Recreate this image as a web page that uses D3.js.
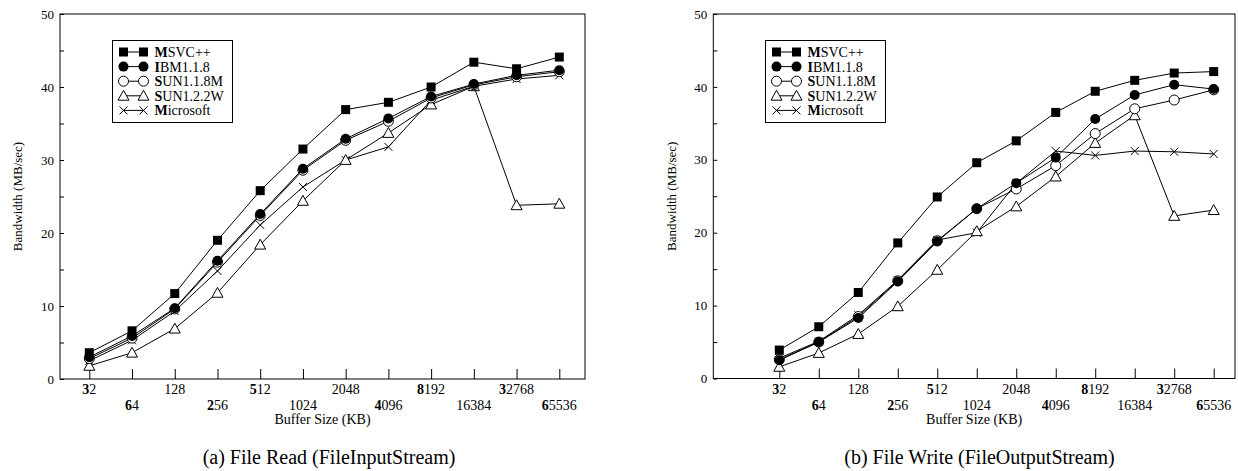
<!DOCTYPE html>
<html>
<head>
<meta charset="utf-8">
<script src="https://cdn.jsdelivr.net/npm/d3@7"></script>
<style>
  html, body { margin: 0; padding: 0; background: #fff; }
  svg { display: block; }
  text { font-family: "Liberation Serif", "Times New Roman", serif; fill: #000; }
</style>
</head>
<body>
<div id="chart"></div>
<script>
// ---------- data ----------
const bufferSizes = [32, 64, 128, 256, 512, 1024, 2048, 4096, 8192, 16384, 32768, 65536];
const seriesNames = ["MSVC++", "IBM1.1.8", "SUN1.1.8M", "SUN1.2.2W", "Microsoft"];
const yTicks = [0, 10, 20, 30, 40, 50];
const yMinorTicks = [5, 15, 25, 35, 45];

// (a) File Read (FileInputStream)
const readMSVC    = [3.6, 6.6, 11.7, 19.0, 25.8, 31.5, 36.9, 37.9, 40.0, 43.4, 42.5, 44.1];
const readIBM     = [3.0, 5.9, 9.7, 16.2, 22.6, 28.8, 32.9, 35.7, 38.7, 40.4, 41.6, 42.3];
const readSUN118M = [2.8, 5.6, 9.6, 16.0, 22.4, 28.6, 32.7, 35.3, 38.5, 40.3, 41.4, 42.1];
const readSUN122W = [1.8, 3.6, 6.9, 11.8, 18.4, 24.4, 30.0, 33.7, 37.6, 40.1, 23.8, 24.0];
const readMS      = [2.5, 5.3, 9.3, 14.8, 21.1, 26.3, 30.0, 31.8, 38.2, 40.1, 41.1, 41.6];

// (b) File Write (FileOutputStream)
const writeMSVC    = [3.9, 7.1, 11.8, 18.6, 24.9, 29.6, 32.6, 36.5, 39.4, 40.9, 41.9, 42.1];
const writeIBM     = [2.5, 5.0, 8.3, 13.3, 18.8, 23.3, 26.8, 30.3, 35.6, 38.9, 40.3, 39.7];
const writeSUN118M = [2.6, 5.0, 8.5, 13.4, 18.9, 23.3, 26.0, 29.2, 33.6, 37.0, 38.2, 39.6];
const writeSUN122W = [1.6, 3.5, 6.1, 9.9, 14.9, 20.2, 23.6, 27.7, 32.3, 36.1, 22.3, 23.1];
const writeMS      = [2.8, 5.1, 8.7, 13.5, 19.0, 20.0, 26.8, 31.2, 30.6, 31.2, 31.1, 30.8];

const yLabel = "Bandwidth (MB/sec)";
const xLabel = "Buffer Size (KB)";
const captions = ["(a) File Read (FileInputStream)", "(b) File Write (FileOutputStream)"];
const boldFirstTicks = ["32", "512", "8192", "32768", "64", "256", "4096", "65536"];
const markerKinds = ["square", "disc", "circle", "triangle", "cross"];

// ---------- drawing ----------
const W = 1238, H = 471;
const svg = d3.select("#chart").append("svg")
  .attr("width", W).attr("height", H)
  .attr("viewBox", `0 0 ${W} ${H}`);
svg.append("rect").attr("width", W).attr("height", H).attr("fill", "#fff");

function marker(g, kind, cx, cy) {
  if (kind === "square") {
    g.append("rect").attr("x", cx - 4.5).attr("y", cy - 4.5)
      .attr("width", 9).attr("height", 9).attr("fill", "#000");
  } else if (kind === "disc") {
    g.append("circle").attr("cx", cx).attr("cy", cy).attr("r", 5).attr("fill", "#000");
  } else if (kind === "circle") {
    g.append("circle").attr("cx", cx).attr("cy", cy).attr("r", 5)
      .attr("fill", "#fff").attr("stroke", "#000").attr("stroke-width", 1);
  } else if (kind === "triangle") {
    const s = 5.5;
    g.append("path")
      .attr("d", `M${cx},${cy - s} L${cx + s},${cy + s * 0.8} L${cx - s},${cy + s * 0.8} Z`)
      .attr("fill", "#fff").attr("stroke", "#000").attr("stroke-width", 1);
  } else if (kind === "cross") {
    const s = 4;
    g.append("path")
      .attr("d", `M${cx - s},${cy - s} L${cx + s},${cy + s} M${cx - s},${cy + s} L${cx + s},${cy - s}`)
      .attr("stroke", "#000").attr("stroke-width", 1).attr("fill", "none");
  }
}

function boldFirst(sel, str, bold) {
  if (bold) {
    sel.append("tspan").attr("font-weight", "bold").text(str[0]);
    sel.append("tspan").text(str.slice(1));
  } else {
    sel.text(str);
  }
}

function drawPanel(cfg) {
  const g = svg.append("g");
  const x = d3.scaleLog().base(2).domain([bufferSizes[0], bufferSizes[bufferSizes.length - 1]])
    .range([cfg.tickFirst, cfg.tickLast]);
  const y = d3.scaleLinear().domain([0, 50]).range([cfg.bottom, cfg.top]);

  // frame
  g.append("rect")
    .attr("x", cfg.left).attr("y", cfg.top)
    .attr("width", cfg.right - cfg.left).attr("height", cfg.bottom - cfg.top)
    .attr("fill", "none").attr("stroke", "#000").attr("stroke-width", 1);

  // x ticks (inward)
  const xa = g.append("g").attr("transform", `translate(0,${cfg.bottom})`)
    .call(d3.axisBottom(x).tickValues(bufferSizes).tickSize(-10).tickSizeOuter(0).tickFormat(""));
  xa.select(".domain").remove();
  xa.selectAll("line").attr("stroke", "#000");

  // x tick labels, alternating rows
  bufferSizes.forEach((b, i) => {
    const t = g.append("text")
      .attr("x", x(b)).attr("y", i % 2 === 0 ? cfg.bottom + 15 : cfg.bottom + 31)
      .attr("text-anchor", "middle").attr("font-size", 14);
    boldFirst(t, String(b), boldFirstTicks.includes(String(b)));
  });

  // y ticks
  const ya = g.append("g").attr("transform", `translate(${cfg.left},0)`)
    .call(d3.axisLeft(y).tickValues(yTicks).tickSize(-4).tickPadding(6).tickSizeOuter(0));
  ya.select(".domain").remove();
  ya.selectAll("line").attr("stroke", "#000");
  ya.selectAll("text").attr("font-size", 13).attr("font-family", "Liberation Serif, serif")
    .attr("fill", "#000");
  const ym = g.append("g").attr("transform", `translate(${cfg.left},0)`)
    .call(d3.axisLeft(y).tickValues(yMinorTicks).tickSize(-4).tickFormat("").tickSizeOuter(0));
  ym.select(".domain").remove();
  ym.selectAll("line").attr("stroke", "#000");

  // axis labels
  g.append("text")
    .attr("transform", `translate(${cfg.yLabelX},${(cfg.top + cfg.bottom) / 2}) rotate(-90)`)
    .attr("text-anchor", "middle").attr("font-size", 13).text(yLabel);
  g.append("text")
    .attr("x", (cfg.left + cfg.right) / 2).attr("y", cfg.bottom + 45)
    .attr("text-anchor", "middle").attr("font-size", 14).text(xLabel);

  // caption
  g.append("text")
    .attr("x", cfg.captionX).attr("y", 464)
    .attr("text-anchor", "middle").attr("font-size", 20).text(cfg.caption);

  // series (drawn in reverse so the first series sits on top)
  const line = d3.line().x((d, i) => x(bufferSizes[i])).y(d => y(d));
  for (let s = cfg.series.length - 1; s >= 0; s--) {
    const vals = cfg.series[s];
    const sg = g.append("g");
    sg.append("path").attr("d", line(vals))
      .attr("fill", "none").attr("stroke", "#000").attr("stroke-width", 1);
    vals.forEach((v, i) => marker(sg, markerKinds[s], x(bufferSizes[i]), y(v)));
  }

  // legend
  const lg = g.append("g");
  const L = cfg.legend;
  lg.append("rect").attr("x", L.x).attr("y", L.y).attr("width", 120).attr("height", 82)
    .attr("fill", "#fff").attr("stroke", "#000").attr("stroke-width", 1);
  seriesNames.forEach((name, i) => {
    const cy = L.y + 11.5 + i * 14.6;
    const m1 = L.x + 11, m2 = L.x + 31;
    lg.append("line").attr("x1", m1).attr("x2", m2).attr("y1", cy).attr("y2", cy)
      .attr("stroke", "#000").attr("stroke-width", 1);
    marker(lg, markerKinds[i], m1, cy);
    marker(lg, markerKinds[i], m2, cy);
    const t = lg.append("text").attr("x", L.x + 42).attr("y", cy + 5).attr("font-size", 14);
    boldFirst(t, name, true);
  });
}

drawPanel({
  left: 60, right: 585, top: 14, bottom: 379,
  tickFirst: 89.3, tickLast: 559.3,
  yLabelX: 22, captionX: 329,
  caption: captions[0],
  legend: { x: 112.5, y: 40.5 },
  series: [readMSVC, readIBM, readSUN118M, readSUN122W, readMS]
});

drawPanel({
  left: 713.3, right: 1235, top: 14, bottom: 378.5,
  tickFirst: 779.3, tickLast: 1213.7,
  yLabelX: 676, captionX: 979.5,
  caption: captions[1],
  legend: { x: 765.5, y: 40.5 },
  series: [writeMSVC, writeIBM, writeSUN118M, writeSUN122W, writeMS]
});
</script>
</body>
</html>
